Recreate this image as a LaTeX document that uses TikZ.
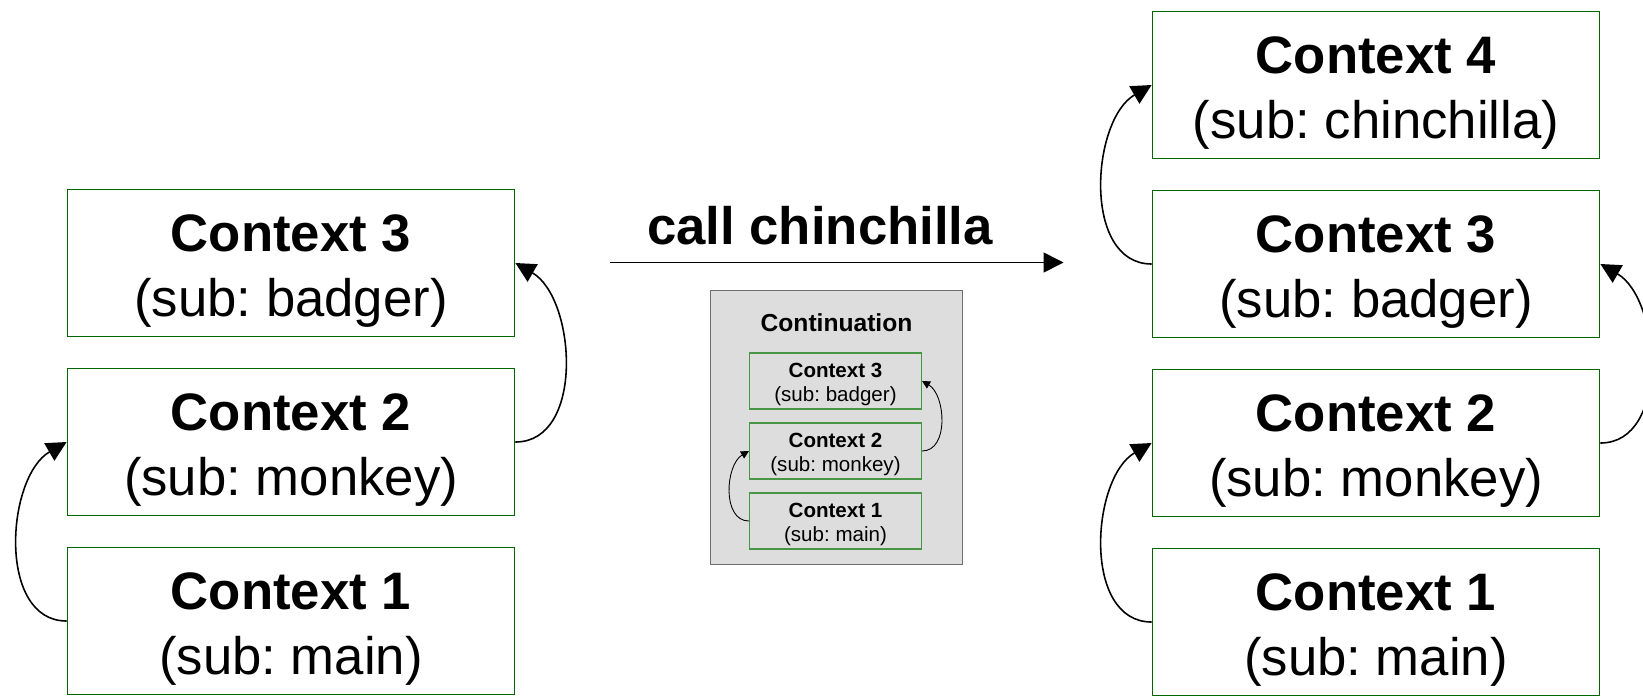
\documentclass[tikz,border=0pt]{standalone}
\usepackage{fontspec}
\setmainfont{Liberation Sans}
\usetikzlibrary{arrows.meta, positioning}

\definecolor{ctxgreen}{RGB}{0,102,0}
\definecolor{ctxlightgreen}{RGB}{70,150,70}
\definecolor{contfill}{RGB}{221,221,221}
\definecolor{contdraw}{RGB}{110,110,110}

\frenchspacing
\newcommand{\ctxtext}[2]{\rule{0pt}{1em}\textbf{#1}\\#2}

\tikzstyle{context} = [
    rectangle,
    minimum width=4.47cm,
    minimum height=1.47cm,
    inner ysep=0pt,
    draw=ctxgreen,
    line width=0.5pt,
    align=center,
    font=\fontsize{15}{18.3}\selectfont
]
\tikzstyle{smallcontext} = [
    rectangle,
    minimum width=1.72cm,
    minimum height=0.56cm,
    inner ysep=0pt,
    draw=ctxlightgreen,
    line width=0.3pt,
    align=center,
    font=\fontsize{5.85}{6.85}\selectfont
]
\tikzstyle{continuation} = [
    rectangle,
    minimum width=2.52cm,
    minimum height=2.74cm,
    draw=contdraw,
    fill=contfill,
    line width=0.4pt
]
\tikzstyle{arrow} = [line width=0.45pt,-{Triangle[length=2mm,width=2mm]}]
\tikzstyle{smallarrow} = [line width=0.25pt,-{Triangle[length=0.8mm,width=0.8mm]}]

\begin{document}
\begin{tikzpicture}[node distance=1.79cm]
\useasboundingbox (0,0) rectangle (16.43,-6.95);

% before the call
\node (left3) [context] at (2.91,-2.63) {\ctxtext{Context 3}{(sub: badger)}};
\node (left2) [context, below of=left3] {\ctxtext{Context 2}{(sub: monkey)}};
\node (left1) [context, below of=left2] {\ctxtext{Context 1}{(sub: main)}};

\draw [arrow] (left1.west) to[out=180,in=210] (left2.west);
\draw [arrow] (left2.east) to[out=0,in=-30] (left3.east);

% the call
\coordinate (callstart) at (6.10,-2.625);
\coordinate (callend) at (10.635,-2.625);
\node (calllabel) [anchor=base, font=\fontsize{15}{18}\selectfont\bfseries] at (8.20,-2.44) {call chinchilla};
\draw [arrow] (callstart) -- (callend);

% continuation
\node (cont) [continuation] at (8.365,-4.275) {};
\node (conttitle) [anchor=base, font=\fontsize{7}{8}\selectfont\bfseries] at ([yshift=-0.42cm]cont.north) {Continuation};

\node (cont3) [smallcontext] at (8.355,-3.81) {\ctxtext{Context 3}{(sub: badger)}};
\node (cont2) [smallcontext, node distance=0.70cm, below of=cont3] {\ctxtext{Context 2}{(sub: monkey)}};
\node (cont1) [smallcontext, node distance=0.70cm, below of=cont2] {\ctxtext{Context 1}{(sub: main)}};

\draw [smallarrow] (cont1.west) to[out=180,in=210] (cont2.west);
\draw [smallarrow] (cont2.east) to[out=0,in=-30] (cont3.east);

% after the call
\node (right4) [context] at (13.76,-0.85) {\ctxtext{Context 4}{(sub: chinchilla)}};
\node (right3) [context, below of=right4] {\ctxtext{Context 3}{(sub: badger)}};
\node (right2) [context, below of=right3] {\ctxtext{Context 2}{(sub: monkey)}};
\node (right1) [context, below of=right2] {\ctxtext{Context 1}{(sub: main)}};

\draw [arrow] (right1.west) to[out=180,in=210] (right2.west);
\draw [arrow] (right2.east) to[out=0,in=-30] (right3.east);
\draw [arrow] (right3.west) to[out=180,in=210] (right4.west);

\end{tikzpicture}
\end{document}
